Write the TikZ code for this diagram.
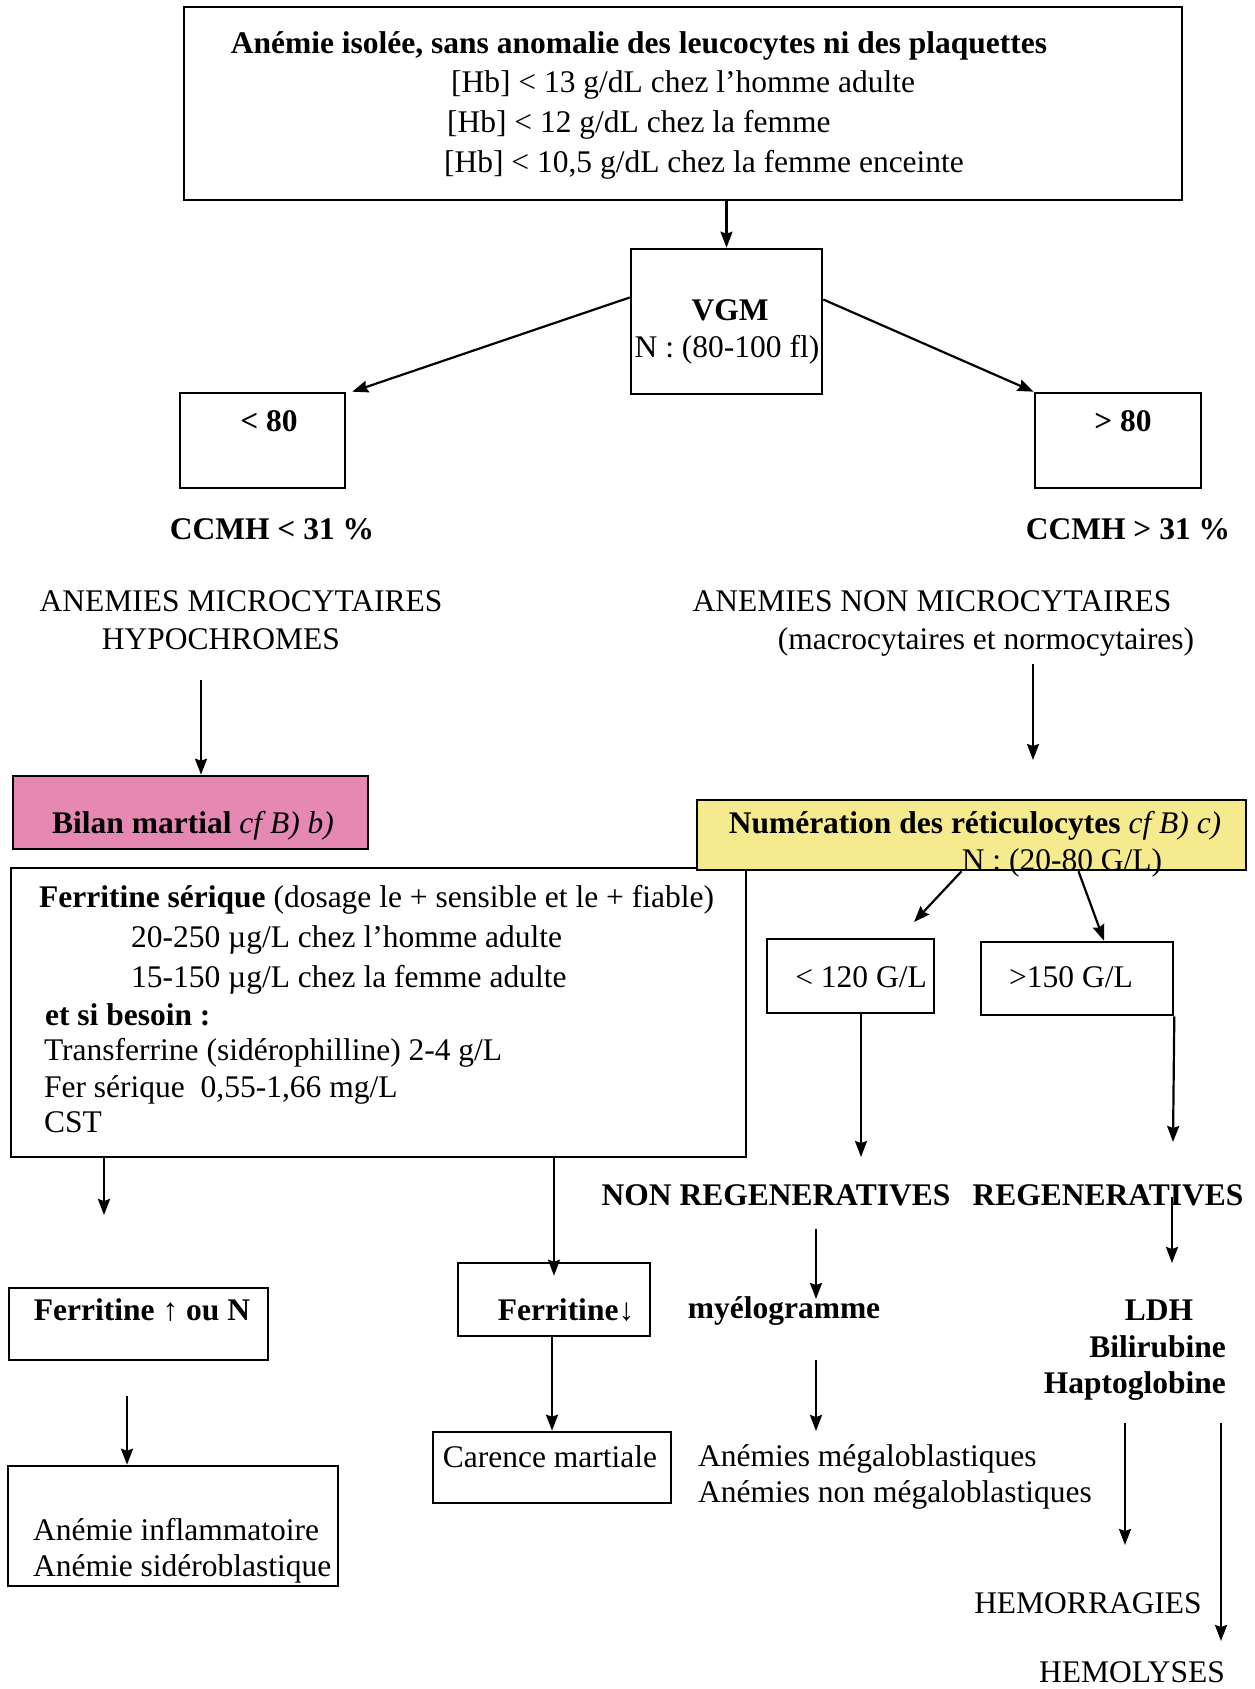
\documentclass[tikz,border=0pt]{standalone}
\usepackage{fontspec}
\setmainfont{Liberation Serif}
\usetikzlibrary{positioning,arrows.meta}
\definecolor{bilanpink}{RGB}{230,136,180}
\definecolor{reticyellow}{RGB}{246,234,142}

\begin{document}
\begin{tikzpicture}[%
    x=1pt, y=-1pt,
    ->,
    >={Stealth[length=16pt,width=12pt,inset=2pt]},
    line width=2.2pt,
    every node/.style={font=\fontsize{31.5pt}{38pt}\selectfont, inner sep=0pt},
    box/.style={%
      rectangle,
      line width=2.6pt,
      draw
    },
    txt/.style={anchor=base},
    txtl/.style={anchor=base west},
    txtr/.style={anchor=base east}
  ]
    \useasboundingbox (0,0) rectangle (1254,1689);

    % boxes
    \node[box, minimum width=998pt, minimum height=193pt] (top) at (683,103.5) {};
    \node[box, minimum width=191pt, minimum height=145pt] (vgm) at (726.5,321.5) {};
    \node[box, minimum width=165pt, minimum height=95pt] (lt80) at (262.5,440.5) {};
    \node[box, minimum width=166pt, minimum height=95pt] (gt80) at (1118,440.5) {};
    \node[box, fill=bilanpink, minimum width=355pt, minimum height=73pt] (bilan) at (190.5,812.5) {};
    \node[box, minimum width=735pt, minimum height=289pt] (ferr) at (378.5,1012.5) {};
    \node[box, fill=reticyellow, minimum width=549pt, minimum height=70pt] (retic) at (971.5,835) {};
    \node[box, minimum width=167pt, minimum height=74pt] (lt120) at (850.5,976) {};
    \node[box, minimum width=192pt, minimum height=73pt] (gt150) at (1077,978.5) {};
    \node[box, minimum width=259pt, minimum height=72pt] (ferrup) at (138.5,1324) {};
    \node[box, minimum width=192pt, minimum height=73pt] (ferrdown) at (554,1299.5) {};
    \node[box, minimum width=238pt, minimum height=71pt] (carence) at (552,1467.5) {};
    \node[box, minimum width=330pt, minimum height=120pt] (inflam) at (173,1526) {};

    % texts
    \node[txt] (topT) at (639,53) {\textbf{Anémie isolée, sans anomalie des leucocytes ni des plaquettes}};
    \node[txtl] (hb1) at (450,92) {[Hb] < 13 g/dL chez l’homme adulte};
    \node[txtl] (hb2) at (446,132) {[Hb] < 12 g/dL chez la femme};
    \node[txtl] (hb3) at (443,172) {[Hb] < 10,5 g/dL chez la femme enceinte};
    \node[txt] (vgmT) at (730,320) {\textbf{VGM}};
    \node[txt] (vgmN) at (727,357) {N : (80-100 fl)};
    \node[txt] (lt80T) at (269,431) {\textbf{< 80}};
    \node[txt] (gt80T) at (1123,431) {\textbf{> 80}};
    \node[txt] (ccmh1) at (272,539) {\textbf{CCMH < 31 \%}};
    \node[txt] (ccmh2) at (1128,539) {\textbf{CCMH > 31 \%}};
    \node[txt] (micro1) at (241,611) {ANEMIES MICROCYTAIRES};
    \node[txt] (micro2) at (221,649) {HYPOCHROMES};
    \node[txt] (nonmic1) at (932,611) {ANEMIES NON MICROCYTAIRES};
    \node[txt] (nonmic2) at (986,649) {(macrocytaires et normocytaires)};
    \node[txt] (bilanT) at (193,833) {\textbf{Bilan martial} \textit{cf B) b)}};
    \node[txt] (reticT) at (975,833) {\textbf{Numération des réticulocytes} \textit{cf B) c)}};
    \node[txt] (reticN) at (1062,870) {N : (20-80 G/L)};
    \node[txtl] (ferr1) at (38,907) {\textbf{Ferritine sérique} (dosage le + sensible et le + fiable)};
    \node[txtl] (ferr2) at (130,947) {20-250 µg/L chez l’homme adulte};
    \node[txtl] (ferr3) at (130,987) {15-150 µg/L chez la femme adulte};
    \node[txtl] (ferr4) at (44,1025) {\textbf{et si besoin :}};
    \node[txtl] (ferr5) at (43,1060) {Transferrine (sidérophilline) 2-4 g/L};
    \node[txtl] (ferr6) at (43,1097) {Fer sérique~~0,55-1,66 mg/L};
    \node[txtl] (ferr7) at (43,1132) {CST};
    \node[txt] (lt120T) at (861,987) {< 120 G/L};
    \node[txt] (gt150T) at (1071,987) {>150 G/L};
    \node[txt] (nonreg) at (776,1205) {\textbf{NON REGENERATIVES}};
    \node[txt] (reg) at (1108,1205) {\textbf{REGENERATIVES}};
    \node[txt] (ferrupT) at (142,1320) {\textbf{Ferritine ↑ ou N}};
    \node[txt] (ferrdownT) at (566,1320) {\textbf{Ferritine↓}};
    \node[txt] (myelo) at (784,1318) {\textbf{myélogramme}};
    \node[txtl] (mega1) at (697,1466) {Anémies mégaloblastiques};
    \node[txtl] (mega2) at (697,1502) {Anémies non mégaloblastiques};
    \node[txt] (carenceT) at (550,1467) {Carence martiale};
    \node[txtl] (inflam1) at (32,1540) {Anémie inflammatoire};
    \node[txtl] (inflam2) at (32,1576) {Anémie sidéroblastique};
    \node[txt] (ldh) at (1159,1320) {\textbf{LDH}};
    \node[txtr] (bili) at (1227,1357) {\textbf{Bilirubine}};
    \node[txtr] (hapto) at (1227,1393) {\textbf{Haptoglobine}};
    \node[txt] (hemor) at (1088,1613) {HEMORRAGIES};
    \node[txt] (hemol) at (1132,1682) {HEMOLYSES};

    % free ends
    \coordinate (a1) at (201,680);
    \coordinate (c1) at (1033,664);
    \coordinate (c2) at (1033,760);
    \coordinate (r1) at (914,922);
    \coordinate (n1) at (861,1157);
    \coordinate (g1) at (1173,1142);
    \coordinate (reg1) at (1172,1197);
    \coordinate (reg2) at (1172,1263);
    \coordinate (f1) at (104,1215);
    \coordinate (m1) at (816,1229);
    \coordinate (m2) at (816,1299);
    \coordinate (m3) at (816,1360);
    \coordinate (m4) at (816,1431);
    \coordinate (i1) at (127,1396);
    \coordinate (h1) at (1125,1423);
    \coordinate (h2) at (1125,1545);
    \coordinate (h3) at (1221,1423);
    \coordinate (h4) at (1221,1641);

    \path (vgm.north |- top.south) edge (vgm.north)
          ([yshift=24pt]vgm.west) edge ([xshift=6pt]lt80.north east)
          ([yshift=22pt]vgm.east) edge (gt80.north west)
          (a1) edge (a1 |- bilan.north)
          (c1) edge (c2)
          ([xshift=-10pt]retic.south) edge (r1)
          ([xshift=107pt]retic.south) edge ([xshift=27pt]gt150.north)
          (n1 |- lt120.south) edge (n1)
          (gt150.south east) edge (g1)
          (reg1) edge (reg2)
          (f1 |- ferr.south) edge (f1)
          (ferrdown.north |- ferr.south) edge ([yshift=-14pt]ferrdown.north)
          (m1) edge (m2)
          (m3) edge (m4)
          (carence.north |- ferrdown.south) edge (carence.north)
          (i1) edge (i1 |- inflam.north)
          (h1) edge (h2)
          (h3) edge (h4);
\end{tikzpicture}
\end{document}
